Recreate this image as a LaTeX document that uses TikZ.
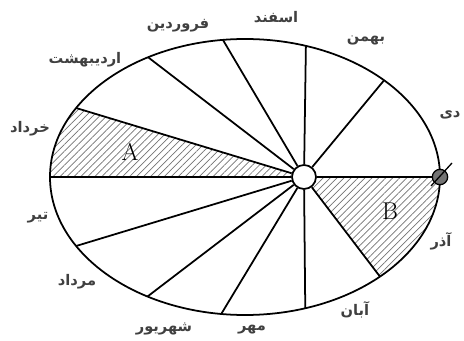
\documentclass[tikz,border=0pt]{standalone}
\usepackage{fontspec}
\usetikzlibrary{patterns.meta}
\newfontfamily\arabicfont[Script=Arabic]{DejaVu Sans}
\TeXXeTstate=1
\newcommand{\mah}[1]{{\arabicfont\bfseries\beginR #1\endR}}

\begin{document}
\begin{tikzpicture}[x=0.03cm,y=-0.03cm,
  month/.style={text=black!75,font=\fontsize{12.5}{14}\selectfont,inner sep=0pt},
  ray/.style={line width=1.5pt},
  hatch/.style={pattern={Lines[angle=45,distance=4.2pt,line width=0.6pt]},pattern color=black!55}]
  \useasboundingbox (0,0) rectangle (464,341);

  \foreach \t [count=\i] in {0,-44.5,-71.8,-96.5,-119.8,-150,180,150,120,97,72,46.2}
    \coordinate (r\i) at ([shift={(245,177)}]\t:195 and 138);

  \fill[hatch] (304,177) -- (r6) -- plot[domain=-150:-180,samples=20] ({245+195*cos(\x)},{177+138*sin(\x)}) -- cycle;
  \fill[hatch] (304,177) -- (r1) -- plot[domain=0:46.2,samples=20] ({245+195*cos(\x)},{177+138*sin(\x)}) -- cycle;

  \node[circle,draw,fill=white,line width=1.5pt,minimum size=0.72cm,inner sep=0pt] (sun) at (304,177) {};
  \foreach \i in {1,...,12}
    \draw[ray] (sun) -- (r\i);

  \draw[line width=1.5pt] (245,177) ellipse [x radius=5.85cm, y radius=4.14cm];

  \node[circle,draw,fill=black!55,line width=1.1pt,minimum size=0.46cm,inner sep=0pt] (planet) at (r1) {};
  \draw[line width=1.1pt] ([shift={(-9,9)}]planet.center) -- ([shift={(12,-14)}]planet.center);

  \node[font=\huge] (A) at (130,152) {A};
  \node[font=\huge] (B) at (390,211) {B};

  \node[month] (esfand) at (276,17) {\mah{اسفند}};
  \node[month] (bahman) at (366,40) {\mah{بهمن}};
  \node[month] (dey) at (450,115) {\mah{دی}};
  \node[month] (azar) at (441,241) {\mah{آذر}};
  \node[month] (aban) at (355,310) {\mah{آبان}};
  \node[month] (mehr) at (252,330) {\mah{مهر}};
  \node[month] (shahrivar) at (164,329) {\mah{شهریور}};
  \node[month] (mordad) at (77,282) {\mah{مرداد}};
  \node[month] (tir) at (38,218) {\mah{تیر}};
  \node[month] (khordad) at (30,129) {\mah{خرداد}};
  \node[month] (ordibehesht) at (85,60) {\mah{اردیبهشت}};
  \node[month] (farvardin) at (178,26) {\mah{فروردین}};
\end{tikzpicture}
\end{document}
